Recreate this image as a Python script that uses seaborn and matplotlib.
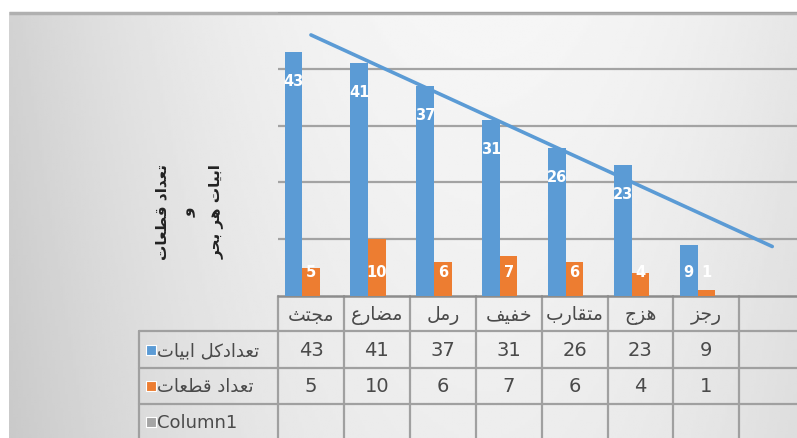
import numpy as np
import pandas as pd
import seaborn as sns
import matplotlib.pyplot as plt
from matplotlib.transforms import blended_transform_factory

# data
categories = ['مجتث', 'مضارع', 'رمل', 'خفیف', 'متقارب', 'هزج', 'رجز']
abyat = [43, 41, 37, 31, 26, 23, 9]      # تعدادکل ابیات
qeteat = [5, 10, 6, 7, 6, 4, 1]          # تعداد قطعات
series_names = ['تعدادکل ابیات', 'تعداد قطعات', 'Column1']
ylabel_lines = ['تعداد قطعات', 'و', 'ابیات هر بحر']
colors = ['#5B9BD5', '#ED7D31', '#A5A5A5']

# matplotlib has no arabic shaping, so pick presentation forms by hand
DUAL = {'ب': 0xFE8F, 'ت': 0xFE95, 'ث': 0xFE99, 'ج': 0xFE9D, 'ح': 0xFEA1,
        'خ': 0xFEA5, 'ض': 0xFEBD, 'ط': 0xFEC1, 'ع': 0xFEC9, 'ف': 0xFED1,
        'ق': 0xFED5, 'ل': 0xFEDD, 'م': 0xFEE1, 'ه': 0xFEE9, 'ک': 0xFB8E,
        'ی': 0xFBFC}
RIGHT = {'ا': 0xFE8D, 'د': 0xFEA9, 'ر': 0xFEAD, 'ز': 0xFEAF, 'و': 0xFEED}


def fa(s):
    if not any(c in DUAL or c in RIGHT for c in s):
        return s
    out = []
    for i, ch in enumerate(s):
        if ch in DUAL or ch in RIGHT:
            prev = s[i - 1] if i > 0 else ''
            nxt = s[i + 1] if i + 1 < len(s) else ''
            jp = prev in DUAL
            jn = ch in DUAL and (nxt in DUAL or nxt in RIGHT)
            base = DUAL.get(ch, RIGHT.get(ch))
            off = 3 if (jp and jn) else 1 if jp else 2 if jn else 0
            out.append(chr(base + off))
        else:
            out.append(ch)
    return ''.join(out[::-1])


df = pd.DataFrame({
    'cat': categories * 3,
    'series': [series_names[0]] * 7 + [series_names[1]] * 7 + [series_names[2]] * 7,
    'value': abyat + qeteat + [np.nan] * 7,
})

sns.set_theme(style='white')
plt.rcParams['font.family'] = ['DejaVu Sans']

W, H = 797, 439
fig = plt.figure(figsize=(W / 100, H / 100), dpi=100, facecolor='white')

# overlay in pixel coords for background / table
ov = fig.add_axes([0, 0, 1, 1], zorder=0)
ov.set_xlim(0, W)
ov.set_ylim(H, 0)
ov.axis('off')
X, Y = np.meshgrid(np.linspace(0, 1, 300), np.linspace(0, 1, 150))
V = 0.965 - 0.14 * ((X - 0.6) / 0.6) ** 2 - 0.035 * Y
ov.imshow(V, cmap='gray', vmin=0, vmax=1, extent=[9, W, H, 13], aspect='auto')
ov.plot([9, W], [13.5, 13.5], color='#b0b0b0', lw=2.5, solid_capstyle='butt')

# plot area
left, top, base, colw = 278, 13, 297, 65.9
ax = fig.add_axes([left / W, (H - base) / H, 8 * colw / W, (base - top) / H], zorder=1)
ax.patch.set_alpha(0)
sns.barplot(data=df, x='cat', y='value', hue='series', order=categories,
            hue_order=series_names, palette=dict(zip(series_names, colors)),
            width=0.8, saturation=1, errorbar=None, legend=False, linewidth=0, ax=ax)
ax.set_xlim(-0.5, 7.5)
ax.set_ylim(0, 50)
ax.set_yticks([10, 20, 30, 40, 50])
ax.yaxis.grid(True, color='#a3a3a3', lw=1.6)
ax.set_axisbelow(True)
ax.tick_params(left=False, bottom=False, labelleft=False, labelbottom=False)
ax.set_xlabel('')
ax.set_ylabel('')
sns.despine(ax=ax, left=True, bottom=True)

# data labels
for k, cont in enumerate(ax.containers[:2]):
    for bar in cont:
        v = bar.get_height()
        if np.isnan(v):
            continue
        xc = bar.get_x() + bar.get_width() / 2
        yl = max(v - 5, 4.4) if k == 0 else 4.4
        ax.text(xc, yl, f'{v:.0f}', color='white', fontsize=10.5, fontweight='bold',
                ha='center', va='center')

# linear trendline on the blue series, carried to the last slot
xs = np.arange(len(abyat))
coef = np.polyfit(xs, abyat, 1)
xt = np.array([0, 7])
ax.plot(xt, np.polyval(coef, xt), color='#5B9BD5', lw=2.6, solid_capstyle='round')

# data table
tr = blended_transform_factory(ax.transData, ov.transData)
lc = '#a0a0a0'
rows_y = [297, 332, 369, 405, H]
for k in range(9):
    ov.plot([k - 0.5, k - 0.5], [base, H], color=lc, lw=1.6, transform=tr)
ov.plot([-0.5, 7.5], [base, base], color='#8c8c8c', lw=1.8, transform=tr)
for yy in rows_y[1:4]:
    ov.plot([139, W], [yy, yy], color=lc, lw=1.6)
ov.plot([139, 139], [332, H], color=lc, lw=1.6)

txtc = '#4a4a4a'
for i, c in enumerate(categories):
    ov.text(i, 316, fa(c), transform=tr, ha='center', va='center', fontsize=13.5, color=txtc)
    ov.text(i, 351, str(abyat[i]), transform=tr, ha='center', va='center', fontsize=14, color=txtc)
    ov.text(i, 387, str(qeteat[i]), transform=tr, ha='center', va='center', fontsize=14, color=txtc)

for name, col, yy in zip(series_names, colors, [351, 387, 423]):
    ov.scatter([151], [yy], marker='s', s=45, color=col, edgecolors='white', linewidths=0.8)
    ov.text(157, yy, fa(name), ha='left', va='center', fontsize=13, color=txtc)

# rotated axis title
ov.text(189, 212, '\n'.join(fa(t) for t in ylabel_lines), rotation=90, ha='center',
        va='center', fontsize=11, fontweight='bold', color='#222222',
        linespacing=1.9, multialignment='center')

fig.savefig('out.png', dpi=100, facecolor='white')
